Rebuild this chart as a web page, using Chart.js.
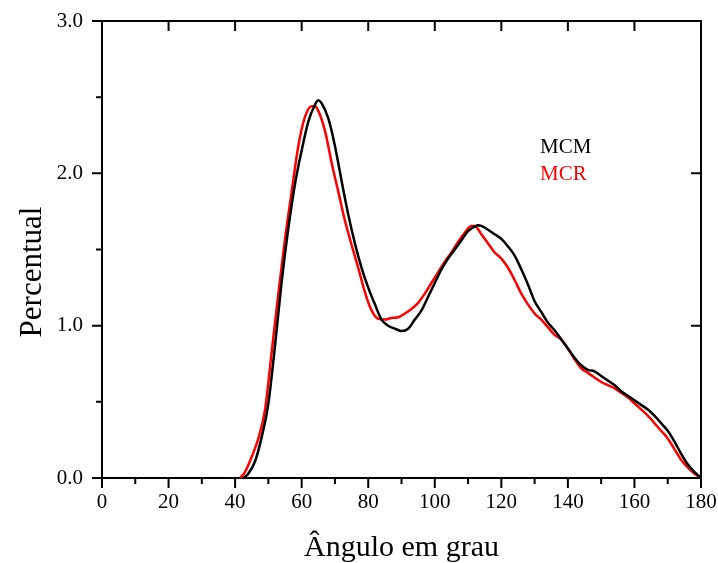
<!DOCTYPE html>
<html>
<head>
<meta charset="utf-8">
<script src="https://cdn.jsdelivr.net/npm/chart.js@4.4.0/dist/chart.umd.min.js"></script>
<style>
  html, body { margin: 0; padding: 0; background: #fff; }
</style>
</head>
<body>
<canvas id="chart" width="718" height="563"></canvas>
<script>
// MCM (black) and MCR (red) curves, angle in degrees vs percent
const mcmAngles = [42.5, 44, 46, 48, 50, 52, 54, 56, 58, 60, 62, 64, 65, 66, 68, 70, 72, 74, 76, 78, 80, 82, 84, 86, 88, 90,
  92, 94, 96, 98, 100, 102, 104, 106, 108, 110, 112, 113, 114, 116, 118, 120, 122, 124, 126, 128, 130, 132, 134, 136, 138,
  140, 142, 144, 146, 148, 150, 152, 154, 156, 158, 160, 162, 164, 166, 168, 170, 172, 174, 176, 178, 180];
const mcmValues = [0, 0.03, 0.11, 0.27, 0.49, 0.87, 1.29, 1.64, 1.93, 2.15, 2.34, 2.45, 2.48, 2.46, 2.36, 2.18, 1.95, 1.73,
  1.54, 1.38, 1.25, 1.14, 1.04, 1.00, 0.98, 0.965, 0.98, 1.04, 1.10, 1.19, 1.28, 1.37, 1.44, 1.50, 1.56, 1.62, 1.65, 1.66,
  1.655, 1.63, 1.60, 1.57, 1.52, 1.46, 1.37, 1.27, 1.16, 1.09, 1.02, 0.97, 0.91, 0.85, 0.79, 0.74, 0.71, 0.70, 0.67, 0.64,
  0.61, 0.57, 0.54, 0.51, 0.48, 0.45, 0.41, 0.36, 0.31, 0.24, 0.16, 0.09, 0.04, 0];

const mcrAngles = [41.5, 43, 45, 47, 49, 51, 53, 55, 57, 59, 61, 63, 64, 65, 67, 69, 71, 73, 75, 77, 79, 81, 83, 85, 87, 89,
  91, 93, 95, 97, 99, 101, 103, 105, 107, 109, 111, 112, 114, 116, 118, 120, 122, 124, 126, 128, 130, 132, 134, 136, 138,
  140, 142, 144, 146, 148, 150, 152, 154, 156, 158, 160, 162, 164, 166, 168, 170, 172, 174, 176, 178, 180];
const mcrValues = [0, 0.04, 0.14, 0.26, 0.45, 0.83, 1.21, 1.57, 1.88, 2.18, 2.37, 2.44, 2.44, 2.41, 2.28, 2.07, 1.88, 1.69,
  1.53, 1.38, 1.22, 1.10, 1.045, 1.04, 1.05, 1.055, 1.08, 1.11, 1.15, 1.21, 1.28, 1.35, 1.42, 1.48, 1.55, 1.61, 1.655, 1.655,
  1.60, 1.54, 1.48, 1.44, 1.38, 1.30, 1.21, 1.14, 1.08, 1.04, 0.99, 0.94, 0.91, 0.85, 0.78, 0.72, 0.69, 0.66, 0.63, 0.61,
  0.59, 0.56, 0.53, 0.49, 0.45, 0.41, 0.36, 0.31, 0.26, 0.19, 0.12, 0.07, 0.03, 0];

const xMajor = [0, 20, 40, 60, 80, 100, 120, 140, 160, 180];
const xMinor = [10, 30, 50, 70, 90, 110, 130, 150, 170];
const yMajor = [0, 1, 2, 3];
const yMinor = [0.5, 1.5, 2.5];

const seriesNames = ['MCM', 'MCR'];
const xTitle = 'Ângulo em grau';
const yTitle = 'Percentual';

function toPoints(xs, ys) {
  return xs.map((x, i) => ({ x: x, y: ys[i] }));
}

const serif = '"Liberation Serif", "Times New Roman", serif';

const framePlugin = {
  id: 'frame',
  beforeDatasetsDraw(chart) {
    const ctx = chart.ctx;
    const a = chart.chartArea;
    const xs = chart.scales.x;
    const ys = chart.scales.y;
    ctx.save();
    ctx.strokeStyle = '#000';
    ctx.lineWidth = 2;
    ctx.strokeRect(a.left, a.top, a.right - a.left, a.bottom - a.top);
    ctx.beginPath();
    // bottom: outward ticks
    xMajor.forEach(v => { const p = xs.getPixelForValue(v); ctx.moveTo(p, a.bottom); ctx.lineTo(p, a.bottom + 10); });
    xMinor.forEach(v => { const p = xs.getPixelForValue(v); ctx.moveTo(p, a.bottom); ctx.lineTo(p, a.bottom + 6); });
    // top: inward major ticks
    xMajor.slice(1, -1).forEach(v => { const p = xs.getPixelForValue(v); ctx.moveTo(p, a.top); ctx.lineTo(p, a.top + 10); });
    // left: outward ticks
    yMajor.forEach(v => { const p = ys.getPixelForValue(v); ctx.moveTo(a.left, p); ctx.lineTo(a.left - 10, p); });
    yMinor.forEach(v => { const p = ys.getPixelForValue(v); ctx.moveTo(a.left, p); ctx.lineTo(a.left - 6, p); });
    // right: inward major ticks
    yMajor.slice(1, -1).forEach(v => { const p = ys.getPixelForValue(v); ctx.moveTo(a.right, p); ctx.lineTo(a.right - 10, p); });
    ctx.stroke();
    ctx.restore();
  },
  afterDraw(chart) {
    const ctx = chart.ctx;
    const a = chart.chartArea;
    ctx.save();
    ctx.fillStyle = '#000';
    ctx.font = '30px ' + serif;
    ctx.textAlign = 'center';
    ctx.textBaseline = 'middle';
    ctx.fillText(xTitle, (a.left + a.right) / 2, 548);
    ctx.font = '31px ' + serif;
    ctx.translate(33, 272);
    ctx.rotate(-Math.PI / 2);
    ctx.fillText(yTitle, 0, 0);
    ctx.restore();

    ctx.save();
    ctx.font = '21px ' + serif;
    ctx.textAlign = 'left';
    ctx.textBaseline = 'middle';
    ctx.fillStyle = '#000';
    ctx.fillText(seriesNames[0], 540, 147);
    ctx.fillStyle = '#ff0000';
    ctx.fillText(seriesNames[1], 540, 174);
    ctx.restore();
  }
};

new Chart(document.getElementById('chart'), {
  type: 'line',
  data: {
    datasets: [
      {
        label: seriesNames[0],
        data: toPoints(mcmAngles, mcmValues),
        borderColor: '#000000',
        borderWidth: 2.5,
        pointRadius: 0,
        cubicInterpolationMode: 'monotone',
        fill: false
      },
      {
        label: seriesNames[1],
        data: toPoints(mcrAngles, mcrValues),
        borderColor: '#ff0000',
        borderWidth: 2.5,
        pointRadius: 0,
        cubicInterpolationMode: 'monotone',
        fill: false
      }
    ]
  },
  options: {
    responsive: false,
    animation: false,
    layout: { padding: { top: 21, right: 17, left: 0, bottom: 0 } },
    plugins: { legend: { display: false }, tooltip: { enabled: false } },
    scales: {
      x: {
        type: 'linear',
        min: 0,
        max: 180,
        grid: { display: false },
        border: { display: false },
        afterFit: s => { s.height = 85; s.paddingLeft = 0; s.paddingRight = 0; },
        afterBuildTicks: s => { s.ticks = xMajor.map(v => ({ value: v })); },
        ticks: {
          padding: 4,
          color: '#000',
          maxRotation: 0,
          font: { family: serif, size: 21 }
        }
      },
      y: {
        min: 0,
        max: 3,
        grid: { display: false },
        border: { display: false },
        afterFit: s => { s.width = 102; s.paddingTop = 0; s.paddingBottom = 0; },
        afterBuildTicks: s => { s.ticks = yMajor.map(v => ({ value: v })); },
        ticks: {
          padding: 11,
          color: '#000',
          font: { family: serif, size: 21 },
          callback: v => v.toFixed(1)
        }
      }
    }
  },
  plugins: [framePlugin]
});
</script>
</body>
</html>
